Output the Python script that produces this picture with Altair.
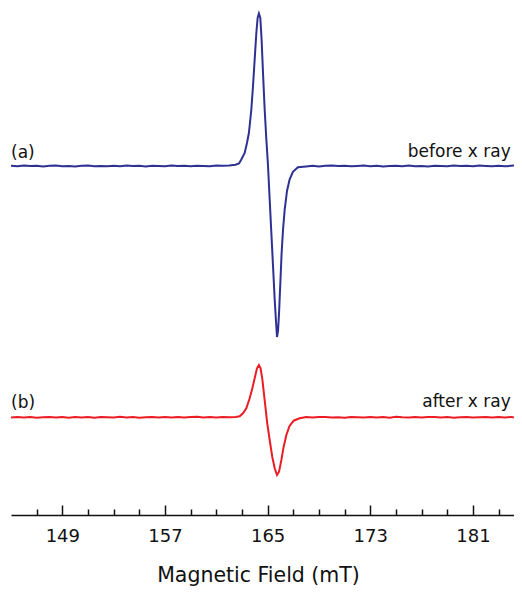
import altair as alt
import pandas as pd

# ---- data (field in mT, signal in arbitrary units) ----
blue_left_field = [145.0, 145.5, 146.0, 146.5, 147.0, 147.5, 148.0, 148.5, 149.0, 149.5,
                   150.0, 150.5, 151.0, 151.5, 152.0, 152.5, 153.0, 153.5, 154.0, 154.5,
                   155.0, 155.5, 156.0, 156.5, 157.0, 157.5, 158.0, 158.5, 159.0, 159.5,
                   160.0, 160.5, 161.0, 161.5, 162.0, 162.5]
blue_left_signal = [0.002, -0.003, 0.004, -0.001, 0.003, -0.004, 0.002, 0.004, -0.003, 0.001,
                    -0.004, 0.003, 0.005, -0.002, 0.001, -0.003, 0.003, -0.002, 0.004, -0.001,
                    0.002, -0.004, 0.003, 0.001, -0.003, 0.004, -0.001, 0.002, -0.003, 0.003,
                    0.001, -0.002, 0.004, 0.002, 0.006, 0.012]
blue_peak_field = [162.77, 162.95, 163.21, 163.39, 163.54, 163.73, 163.86, 163.99, 164.12, 164.22,
                   164.32, 164.43, 164.53, 164.64, 164.77, 164.90, 165.03, 165.16, 165.29, 165.42,
                   165.55, 165.66, 165.73, 165.81, 165.89, 165.99, 166.09, 166.20, 166.33, 166.51,
                   166.71, 166.97, 167.36]
blue_peak_signal = [0.025, 0.065, 0.13, 0.23, 0.33, 0.565, 0.80, 1.065, 1.33, 1.48,
                    1.525, 1.48, 1.265, 0.93, 0.565, 0.265, 0.0, -0.335, -0.67, -1.0,
                    -1.335, -1.57, -1.71, -1.65, -1.47, -1.17, -0.87, -0.635, -0.435, -0.25,
                    -0.135, -0.058, -0.012]
blue_right_field = [168.0, 168.5, 169.0, 169.5, 170.0, 170.5, 171.0, 171.5, 172.0, 172.5,
                    173.0, 173.5, 174.0, 174.5, 175.0, 175.5, 176.0, 176.5, 177.0, 177.5,
                    178.0, 178.5, 179.0, 179.5, 180.0, 180.5, 181.0, 181.5, 182.0, 182.5,
                    183.0, 183.5, 184.0, 184.2]
blue_right_signal = [-0.004, 0.003, -0.004, 0.002, 0.004, -0.001, 0.003, -0.003, 0.001, 0.004,
                     -0.002, 0.002, -0.004, 0.001, 0.003, -0.002, 0.005, -0.003, 0.001, -0.004,
                     0.003, 0.000, -0.002, 0.004, -0.001, 0.002, -0.003, 0.004, 0.001, -0.002,
                     0.003, -0.003, 0.002, 0.004]

red_left_field = blue_left_field
red_left_signal = [-0.002, 0.004, -0.003, 0.002, -0.005, 0.001, 0.003, -0.002, 0.004, -0.004,
                   0.002, -0.001, 0.004, -0.004, 0.002, 0.001, -0.003, 0.005, -0.002, 0.003,
                   -0.004, 0.001, 0.003, -0.002, 0.004, -0.001, 0.002, -0.003, 0.003, 0.005,
                   -0.002, 0.002, -0.003, 0.004, 0.001, 0.004]
red_peak_field = [162.82, 163.08, 163.34, 163.60, 163.81, 163.99, 164.17, 164.32, 164.45, 164.58,
                  164.71, 164.84, 164.97, 165.16, 165.36, 165.55, 165.73, 165.89, 166.07, 166.25,
                  166.46, 166.71, 167.03, 167.49]
red_peak_signal = [0.01, 0.04, 0.09, 0.19, 0.29, 0.39, 0.49, 0.523, 0.49, 0.39,
                   0.24, 0.09, -0.06, -0.227, -0.394, -0.51, -0.577, -0.544, -0.427, -0.294,
                   -0.177, -0.087, -0.034, -0.01]
red_right_field = blue_right_field
red_right_signal = [0.003, -0.003, 0.002, 0.004, -0.002, 0.001, -0.004, 0.003, 0.001, -0.003,
                    0.004, -0.001, 0.002, -0.004, 0.005, 0.000, -0.002, 0.003, -0.003, 0.002,
                    0.004, -0.002, 0.003, -0.004, 0.001, 0.003, -0.002, 0.001, 0.004, -0.003,
                    0.002, -0.001, 0.004, -0.003]

blue_offset = 3.49
red_offset = 0.977

major_ticks = [149, 157, 165, 173, 181]
all_ticks = [147, 149, 151, 153, 155, 157, 159, 161, 163, 165, 167, 169, 171, 173,
             175, 177, 179, 181, 183]

label_text = ["(a)", "before x ray", "(b)", "after x ray"]
label_field = [145.0, 183.95, 145.0, 183.95]
label_level = [3.57, 3.585, 1.07, 1.08]
label_side = ["left", "right", "left", "right"]

# ---- build tables ----
blue = pd.DataFrame({
    "field": blue_left_field + blue_peak_field + blue_right_field,
    "signal": [v + blue_offset for v in blue_left_signal + blue_peak_signal + blue_right_signal],
})
red = pd.DataFrame({
    "field": red_left_field + red_peak_field + red_right_field,
    "signal": [v + red_offset for v in red_left_signal + red_peak_signal + red_right_signal],
})
labels = pd.DataFrame({"text": label_text, "field": label_field,
                       "level": label_level, "side": label_side})

FONT = "DejaVu Sans"
xscale = alt.Scale(domain=[145, 184.2], nice=False, zero=False)
yscale = alt.Scale(domain=[0, 5.07], nice=False, zero=False)

blue_line = alt.Chart(blue).mark_line(color="#2e3192", strokeWidth=2, clip=True).encode(
    x=alt.X("field:Q", scale=xscale,
            axis=alt.Axis(orient="bottom", values=major_ticks, ticks=False, domain=False,
                          grid=False, labelFont=FONT, labelFontSize=18, labelColor="#111",
                          labelPadding=12, labelFlush=False,
                          title="Magnetic Field (mT)", titleFont=FONT, titleFontSize=20.5,
                          titleFontWeight="normal", titleColor="#111", titlePadding=20,
                          titleX=247)),
    y=alt.Y("signal:Q", scale=yscale, axis=None),
)

red_line = alt.Chart(red).mark_line(color="#ec1c24", strokeWidth=2, clip=True).encode(
    x=alt.X("field:Q", scale=xscale,
            axis=alt.Axis(orient="top", offset=-507, values=all_ticks, labels=False,
                          title=None, grid=False, domain=True, domainColor="#111",
                          domainWidth=1.5, tickColor="#111", tickWidth=1.5,
                          tickSize={"condition": {"test": "datum.value % 8 == 5", "value": 10},
                                    "value": 6})),
    y=alt.Y("signal:Q", scale=yscale, axis=None),
)

left_text = alt.Chart(labels).transform_filter(alt.datum.side == "left").mark_text(
    align="left", baseline="alphabetic", font=FONT, fontSize=17, color="#111"
).encode(
    x=alt.X("field:Q", scale=xscale, axis=None),
    y=alt.Y("level:Q", scale=yscale, axis=None),
    text="text:N",
)
right_text = alt.Chart(labels).transform_filter(alt.datum.side == "right").mark_text(
    align="right", baseline="alphabetic", font=FONT, fontSize=17, color="#111"
).encode(
    x=alt.X("field:Q", scale=xscale, axis=None),
    y=alt.Y("level:Q", scale=yscale, axis=None),
    text="text:N",
)

chart = alt.layer(blue_line, red_line, left_text, right_text).resolve_axis(
    x="independent"
).properties(
    width=503, height=507,
    padding={"left": 3, "right": 0, "top": 0, "bottom": 71},
    autosize=alt.AutoSizeParams(type="none"),
    background="white",
).configure_view(stroke=None)

chart.save("out.html", embed_options={"renderer": "svg", "actions": False})
